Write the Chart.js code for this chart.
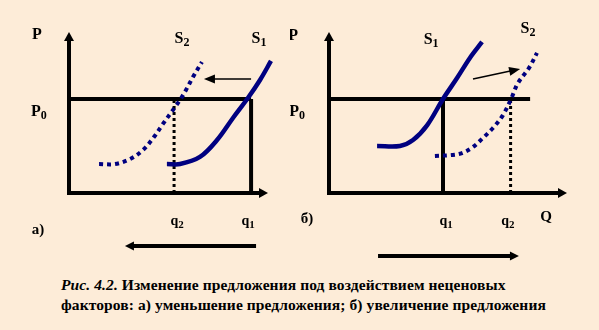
<!DOCTYPE html>
<html lang="ru">
<head>
<meta charset="utf-8">
<script src="https://cdn.jsdelivr.net/npm/chart.js@4/dist/chart.umd.min.js"></script>
<style>
  html, body { margin: 0; padding: 0; }
  body {
    width: 599px; height: 330px; overflow: hidden; position: relative;
    background: #FDECD8;
    font-family: "Liberation Serif", "Times New Roman", Times, serif;
  }
  .panel { position: absolute; top: 0; }
  #wrapA { left: 0; width: 300px; height: 260px; }
  #wrapB { left: 290px; width: 309px; height: 270px; }
  .caption {
    position: absolute; left: 61px; top: 275px;
    font-size: 15.5px; line-height: 20px; font-weight: bold;
    letter-spacing: 0.1px;
    color: #000; white-space: nowrap;
  }
</style>
</head>
<body>
<div class="panel" id="wrapA"><canvas id="graphA" width="300" height="260"></canvas></div>
<div class="panel" id="wrapB"><canvas id="graphB" width="309" height="270"></canvas></div>
<div class="caption" id="caption"><i>Рис. 4.2.</i> Изменение предложения под воздействием неценовых<br>факторов: а) уменьшение предложения; б) увеличение предложения</div>

<script>
/* donnees (Q horizontal, P vertical, echelle 0..10) */
var P0 = 5.84;

// panneau a) : diminution de l'offre
var aQ1 = 9.15, aQ2 = 5.28;
var aS1Q = [4.92, 5.58, 6.58, 7.44, 8.24, 8.99, 9.60, 10.15];
var aS1P = [1.80, 1.80, 2.24, 3.29, 4.66, 5.90, 7.02, 8.20];
var aS2Q = [1.51, 2.31, 3.07, 3.72, 4.27, 4.72, 5.23, 5.58, 5.88, 6.23, 6.68];
var aS2P = [1.80, 1.80, 2.11, 2.67, 3.48, 4.29, 5.16, 5.78, 6.40, 7.20, 8.14];
var aShiftQ = [9.15, 6.78], aShiftP = [7.08, 7.08];
var aMoveQ = [9.40, 2.81], aMoveP = [-3.29, -3.29];

// panneau б) : augmentation de l'offre
var bQ1 = 4.79, bQ2 = 7.63, bP0End = 8.45;
var bS1Q = [2.02, 2.98, 3.53, 4.12, 4.79, 5.38, 5.92, 6.43];
var bS1P = [2.92, 2.92, 3.29, 4.20, 5.84, 7.14, 8.39, 9.38];
var bS2Q = [4.45, 5.17, 5.59, 6.05, 6.47, 6.89, 7.31, 7.65, 7.94, 8.40, 8.74];
var bS2P = [2.30, 2.36, 2.48, 2.86, 3.42, 4.04, 4.84, 5.84, 6.83, 7.76, 8.70];
var bShiftQ = [6.05, 8.03], bShiftP = [7.08, 7.70];
var bMoveQ = [2.06, 7.98], bMoveP = [-3.91, -3.91];

var NAVY = '#000080';
var SERIF = '"Liberation Serif", "Times New Roman", Times, serif';

function pts(qs, ps) {
    return qs.map(function(q, i) { return {x: q, y: ps[i]}; });
}

function ligne(data, color, width, dash, courbe) {
    return {
        data: data,
        showLine: true,
        borderColor: color,
        borderWidth: width,
        borderDash: dash || [],
        borderCapStyle: 'butt',
        pointRadius: 0,
        fill: false,
        clip: false,
        tension: courbe ? 0.35 : 0
    };
}

/* plugin : axes avec fleches, fleches de deplacement, etiquettes */
var decor = {
    id: 'decor',
    afterDatasetsDraw: function(chart, args, opts) {
        var ctx = chart.ctx;
        var sx = chart.scales.x, sy = chart.scales.y;
        ctx.save();
        (opts.arrows || []).forEach(function(a) {
            var x1 = sx.getPixelForValue(a.q[0]), y1 = sy.getPixelForValue(a.p[0]);
            var x2 = sx.getPixelForValue(a.q[1]), y2 = sy.getPixelForValue(a.p[1]);
            var ang = Math.atan2(y2 - y1, x2 - x1);
            var L = a.head[0], W = a.head[1];
            var bx = x2 - L * Math.cos(ang), by = y2 - L * Math.sin(ang);
            ctx.strokeStyle = '#000';
            ctx.fillStyle = '#000';
            ctx.lineWidth = a.width;
            ctx.lineCap = a.cap || 'butt';
            ctx.beginPath();
            ctx.moveTo(x1, y1);
            ctx.lineTo(bx + Math.cos(ang), by + Math.sin(ang));
            ctx.stroke();
            ctx.beginPath();
            ctx.moveTo(x2, y2);
            ctx.lineTo(bx - W * Math.sin(ang), by + W * Math.cos(ang));
            ctx.lineTo(bx + W * Math.sin(ang), by - W * Math.cos(ang));
            ctx.closePath();
            ctx.fill();
        });
        ctx.textBaseline = 'middle';
        ctx.fillStyle = '#000';
        (opts.labels || []).forEach(function(l) {
            var size = l.size || 16;
            var fMain = 'bold ' + size + 'px ' + SERIF;
            var fSub = 'bold ' + Math.round(size * 0.78) + 'px ' + SERIF;
            ctx.font = fMain;
            var w1 = ctx.measureText(l.t).width;
            var w2 = 0;
            if (l.s) { ctx.font = fSub; w2 = ctx.measureText(l.s).width; }
            var x = sx.getPixelForValue(l.q) - (w1 + w2) / 2;
            var y = sy.getPixelForValue(l.p);
            ctx.font = fMain;
            ctx.textAlign = 'left';
            ctx.fillText(l.t, x, y);
            if (l.s) {
                ctx.font = fSub;
                ctx.fillText(l.s, x + w1, y + 4);
            }
        });
        ctx.restore();
    }
};

function options(pad, arrows, labels) {
    return {
        responsive: false,
        animation: false,
        layout: { padding: pad },
        scales: {
            x: { type: 'linear', display: false, min: 0, max: 10 },
            y: { type: 'linear', display: false, min: 0, max: 10 }
        },
        plugins: {
            legend: { display: false },
            tooltip: { enabled: false },
            decor: { arrows: arrows, labels: labels }
        }
    };
}

var axes = [
    { q: [0, 0], p: [0, 10], width: 4, head: [9, 5], cap: 'square' },
    { q: [0, 10], p: [0, 0], width: 4, head: [9, 5], cap: 'square' }
];

function dessiner() {
    /* Graphique a) */
    new Chart(document.getElementById('graphA').getContext('2d'), {
        type: 'scatter',
        data: {
            datasets: [
                ligne(pts(aS1Q, aS1P), NAVY, 4.5, null, true),
                ligne(pts(aS2Q, aS2P), NAVY, 4, [4, 4], true),
                ligne(pts([0, aQ1], [P0, P0]), '#000', 4),
                ligne(pts([aQ1, aQ1], [0, P0]), '#000', 4),
                ligne(pts([aQ2, aQ2], [0, P0]), '#000', 3, [3, 3])
            ]
        },
        options: options(
            { left: 69, top: 32, right: 32, bottom: 67 },
            axes.concat([
                { q: aShiftQ, p: aShiftP, width: 1.5, head: [11, 4.5] },
                { q: aMoveQ, p: aMoveP, width: 4, head: [9, 4.5] }
            ]),
            [
                { t: 'P', q: -1.61, p: 9.81 },
                { t: 'S', s: '2', q: 5.68, p: 9.57 },
                { t: 'S', s: '1', q: 9.55, p: 9.57 },
                { t: 'P', s: '0', q: -1.51, p: 5.03 },
                { t: 'q', s: '2', q: 5.43, p: -1.74, size: 14 },
                { t: 'q', s: '1', q: 9.00, p: -1.74, size: 14 },
                { t: 'а)', q: -1.56, p: -2.30, size: 15 }
            ]
        ),
        plugins: [decor]
    });

    /* Graphique б) */
    new Chart(document.getElementById('graphB').getContext('2d'), {
        type: 'scatter',
        data: {
            datasets: [
                ligne(pts(bS1Q, bS1P), NAVY, 4.5, null, true),
                ligne(pts(bS2Q, bS2P), NAVY, 4, [4, 4], true),
                ligne(pts([0, bP0End], [P0, P0]), '#000', 4),
                ligne(pts([bQ1, bQ1], [0, P0]), '#000', 4),
                ligne(pts([bQ2, bQ2], [0, P0]), '#000', 3, [3, 3])
            ]
        },
        options: options(
            { left: 39, top: 32, right: 32, bottom: 77 },
            axes.concat([
                { q: bShiftQ, p: bShiftP, width: 1.5, head: [11, 4.5] },
                { q: bMoveQ, p: bMoveP, width: 4, head: [9, 4.5] }
            ]),
            [
                { t: 'P', q: -1.51, p: 9.75 },
                { t: 'S', s: '1', q: 4.29, p: 9.50 },
                { t: 'S', s: '2', q: 8.36, p: 10.19 },
                { t: 'P', s: '0', q: -1.34, p: 5.03 },
                { t: 'q', s: '1', q: 4.92, p: -1.74, size: 14 },
                { t: 'q', s: '2', q: 7.52, p: -1.74, size: 14 },
                { t: 'Q', q: 9.12, p: -1.49, size: 15 },
                { t: 'б)', q: -0.92, p: -1.61, size: 15 }
            ]
        ),
        plugins: [decor]
    });
}

if (document.fonts && document.fonts.load) {
    document.fonts.load('bold 16px ' + SERIF).then(dessiner, dessiner);
} else {
    dessiner();
}
</script>
</body>
</html>
